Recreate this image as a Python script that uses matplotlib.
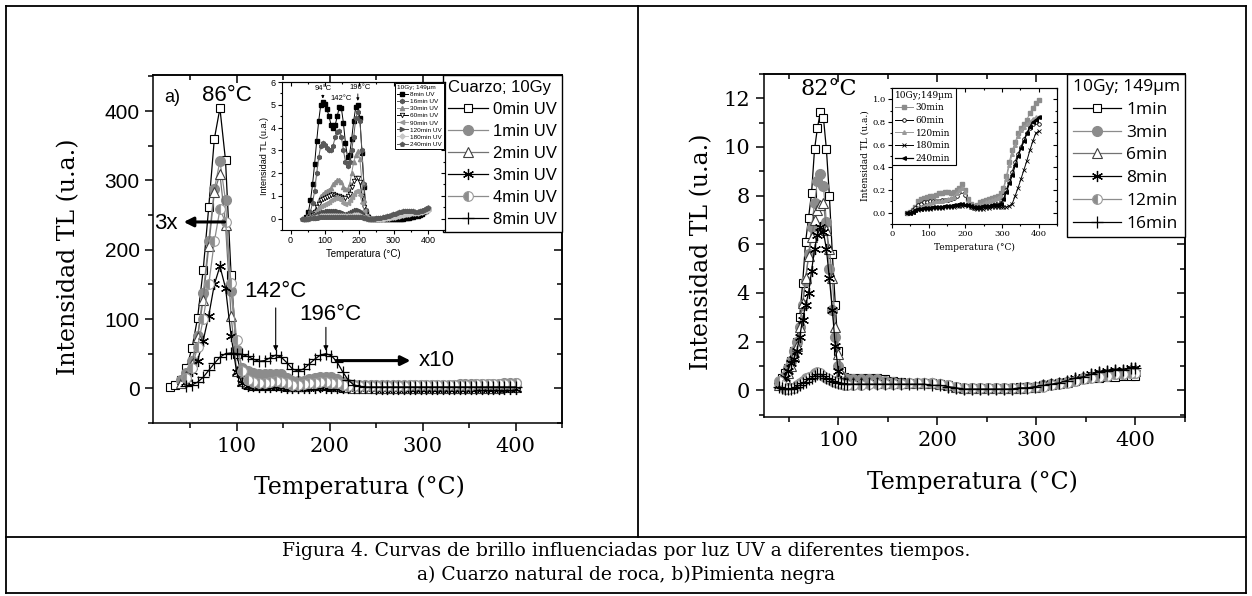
import numpy as np
import matplotlib
matplotlib.use("Agg")
import matplotlib.pyplot as plt
from matplotlib.lines import Line2D
from matplotlib.ticker import MultipleLocator

nan = np.nan

# ---------------- panel a) cuarzo, curva principal ----------------
T_a = [28, 34, 40, 46, 52, 58, 64, 70, 76, 82, 88, 94,
       100, 106, 112, 118, 124, 130, 136, 142, 148, 154, 160, 166,
       172, 178, 184, 190, 196, 202, 208, 214, 220, 226, 232,
       238, 244, 250, 256, 262, 268, 274, 280, 286, 292, 298, 304, 310, 316, 322,
       328, 334, 340, 346, 352, 358, 364, 370, 376, 382, 388, 394, 400]

q_0min = [2, 5, 12, 30, 58, 102, 171, 262, 360, 404, 329, 164,
          50, 12, 5, 3, 3, 3, 4, 4, 3, 2, 2, 2,
          2, 3, 3, 3, 3, 2, 2, 1, 1, 1, 1,
          1, 1, 1, 1, 1, 1, 1, 1, 1, 1, 1, 1, 1, 1, 1,
          1, 1, 1, 1, 1, 1, 1, 1, 1, 2, 2, 2, 2]
q_1min = [nan, nan, 12, 22, 40, 75, 137, 213, 287, 328, 271, 140,
          55, 30, 25, 22, 20, 20, 21, 21, 20, 15, 11, 10,
          11, 13, 15, 17, 17, 16, 13, 9, 6, 5, 5,
          5, 5, 5, 5, 5, 5, 5, 5, 5, 5, 5, 5, 5, 5, 5,
          5, 5, 6, 6, 6, 6, 6, 6, 6, 6, 7, 7, 7]
q_2min = [nan, nan, 8, 18, 35, 74, 128, 205, 283, 309, 236, 105,
          25, 10, 7, 6, 6, 6, 7, 8, 7, 5, 4, 4,
          4, 5, 6, 6, 6, 5, 4, 3, 2, 1, 1,
          1, 1, 1, 1, 1, 1, 1, 1, 1, 1, 1, 1, 1, 1, 1,
          1, 1, 1, 1, 1, 1, 1, 1, 1, 1, 2, 2, 2]
q_3min = [nan, nan, nan, 9, 25, 40, 69, 105, 150, 176, 145, 76,
          23, 8, 4, 3, 2, 2, 2, 3, 2, 1, 1, 1,
          1, 1, 1, 2, 1, 1, 1, 0, 0, 0, 0,
          0, 0, -1, -1, -1, -1, -1, -1, -1, -1, -1, -1, -1, -1, -1,
          -1, -1, -1, -1, -1, -1, -1, -1, -1, -1, -1, -1, -1]
q_4min = [nan, nan, nan, 15, 30, 60, 100, 150, 212, 258, 240, 152,
          70, 25, 12, 9, 8, 8, 9, 10, 9, 7, 5, 5,
          6, 7, 8, 9, 9, 8, 7, 5, 4, 4, 4,
          4, 4, 4, 4, 4, 4, 4, 4, 5, 5, 5, 5, 5, 5, 5,
          5, 5, 5, 5, 5, 6, 6, 6, 6, 6, 6, 6, 7]
q_8min = [nan, nan, nan, 4, 5, 9, 16, 26, 36, 45, 50, 51,
          50, 49, 46, 42, 39, 40, 44, 48, 45, 37, 28, 25,
          28, 35, 42, 48, 50, 47, 38, 24, 12, 5, 3,
          2, 2, 2, 2, 2, 2, 2, 2, 2, 2, 2, 2, 2, 2, 2,
          2, 2, 2, 2, 2, 2, 2, 2, 2, 2, 2, 2, 2]

# inset a) (mismas temperaturas)
i_8min = [nan, nan, 0.0, 0.05, 0.3, 0.8, 1.5, 2.4, 3.4, 4.3, 5.0, 5.1,
          5.05, 4.8, 4.5, 4.1, 4.0, 4.1, 4.5, 4.9, 4.85, 4.2, 3.3, 2.7,
          2.8, 3.5, 4.3, 4.9, 5.0, 4.4, 2.9, 1.4, 0.3, 0.05, 0.0,
          0, 0, 0, 0, 0, 0, 0, 0, 0, 0, 0, 0, 0, 0, 0,
          0.0, 0.01, 0.02, 0.04, 0.06, 0.08, 0.1, 0.13, 0.17, 0.22, 0.28, 0.35, 0.42]
i_16min = [nan, nan, 0.0, 0.0, 0.1, 0.3, 0.7, 1.2, 2.0, 2.7, 3.2, 3.3,
           3.25, 3.1, 3.0, 3.0, 3.2, 3.6, 3.8, 3.85, 3.6, 3.0, 2.5, 2.3,
           2.5, 3.0, 3.6, 4.4, 4.7, 4.3, 3.0, 1.5, 0.4, 0.1, 0.0,
           0.0, 0.0, 0.0, 0.0, 0.02, 0.04, 0.06, 0.08, 0.1, 0.12, 0.15, 0.18, 0.2, 0.23, 0.26,
           0.28, 0.3, 0.3, 0.3, 0.3, 0.29, 0.28, 0.28, 0.3, 0.33, 0.37, 0.42, 0.47]
i_30min = [nan, nan, nan, 0.0, 0.05, 0.1, 0.2, 0.35, 0.55, 0.8, 1.0, 1.1,
           1.15, 1.2, 1.25, 1.35, 1.5, 1.6, 1.7, 1.7, 1.6, 1.4, 1.3, 1.3,
           1.5, 2.0, 2.5, 2.8, 2.95, 2.6, 1.6, 0.8, 0.2, 0.05, 0.0,
           0.0, 0.0, 0.0, 0.0, 0.0, 0.02, 0.04, 0.06, 0.09, 0.12, 0.15, 0.18, 0.22, 0.25, 0.28,
           0.3, 0.32, 0.32, 0.31, 0.3, 0.3, 0.3, 0.31, 0.33, 0.36, 0.4, 0.45, 0.5]
i_60min = [nan, nan, nan, 0.0, 0.0, 0.05, 0.15, 0.3, 0.5, 0.65, 0.8, 0.85,
           0.9, 0.95, 1.0, 1.05, 1.1, 1.05, 1.0, 1.0, 0.95, 0.9, 0.9, 1.0,
           1.1, 1.4, 1.65, 1.8, 1.8, 1.6, 1.0, 0.5, 0.15, 0.05, 0.0,
           0.0, 0.0, 0.0, 0.0, 0.0, 0.0, 0.0, 0.01, 0.02, 0.03, 0.05, 0.07, 0.09, 0.11, 0.13,
           0.15, 0.17, 0.19, 0.21, 0.22, 0.23, 0.24, 0.25, 0.27, 0.3, 0.33, 0.37, 0.42]
i_90min = [nan, nan, nan, 0.0, 0.0, 0.05, 0.1, 0.2, 0.35, 0.45, 0.55, 0.6,
           0.65, 0.7, 0.75, 0.8, 0.85, 0.9, 0.9, 0.85, 0.8, 0.7, 0.65, 0.7,
           0.8, 0.95, 1.1, 1.2, 1.2, 1.05, 0.7, 0.35, 0.1, 0.0, 0.0,
           0.0, 0.0, 0.0, 0.0, 0.0, 0.01, 0.02, 0.04, 0.06, 0.08, 0.1, 0.12, 0.14, 0.16, 0.18,
           0.2, 0.22, 0.24, 0.25, 0.26, 0.27, 0.28, 0.29, 0.3, 0.32, 0.35, 0.38, 0.42]
i_120min = [nan, nan, nan, 0.0, 0.0, 0.02, 0.05, 0.1, 0.15, 0.2, 0.25, 0.28,
            0.3, 0.32, 0.33, 0.34, 0.34, 0.33, 0.32, 0.3, 0.28, 0.25, 0.22, 0.22,
            0.25, 0.3, 0.35, 0.4, 0.4, 0.35, 0.25, 0.12, 0.05, 0.0, 0.0,
            0.0, 0.0, 0.0, 0.0, 0.0, 0.0, 0.0, 0.0, 0.01, 0.02, 0.04, 0.06, 0.08, 0.1, 0.12,
            0.14, 0.16, 0.18, 0.2, 0.22, 0.24, 0.25, 0.26, 0.28, 0.3, 0.33, 0.36, 0.4]
i_180min = [nan, nan, nan, 0.0, 0.0, 0.01, 0.02, 0.04, 0.06, 0.08, 0.1, 0.1,
            0.11, 0.12, 0.12, 0.12, 0.12, 0.12, 0.12, 0.12, 0.11, 0.1, 0.1, 0.1,
            0.1, 0.12, 0.14, 0.15, 0.15, 0.12, 0.08, 0.04, 0.01, 0.0, 0.0,
            0.0, 0.0, 0.0, 0.0, 0.0, 0.0, 0.01, 0.02, 0.03, 0.05, 0.07, 0.09, 0.11, 0.13, 0.15,
            0.17, 0.19, 0.2, 0.22, 0.23, 0.24, 0.25, 0.26, 0.27, 0.29, 0.32, 0.35, 0.38]
i_240min = [nan, 0.0, 0.0, 0.0, 0.0, 0.01, 0.02, 0.03, 0.04, 0.05, 0.06, 0.06,
            0.06, 0.07, 0.07, 0.07, 0.07, 0.07, 0.07, 0.07, 0.06, 0.06, 0.06, 0.06,
            0.06, 0.07, 0.08, 0.09, 0.09, 0.07, 0.05, 0.03, 0.01, 0.0, 0.0,
            0.0, 0.0, 0.01, 0.02, 0.04, 0.06, 0.08, 0.1, 0.13, 0.16, 0.19, 0.22, 0.25, 0.28, 0.3,
            0.32, 0.33, 0.34, 0.34, 0.33, 0.32, 0.31, 0.31, 0.32, 0.34, 0.37, 0.41, 0.45]

# ---------------- panel b) pimienta negra ----------------
T_b = [40, 43, 46, 49, 52, 55, 58, 61, 64, 67, 70, 73, 76, 79, 82, 85, 88, 91, 94, 97, 100, 103, 106, 109,
       115, 123, 131, 139, 147, 155, 163, 171, 179, 187, 195, 203,
       211, 219, 227, 235, 243, 251, 259, 267, 275, 283, 291, 299,
       307, 315, 323, 331, 339, 347, 355, 363, 371, 379, 387, 395, 400]

b_1min = [0.3, 0.5, 0.7, 0.9, 1.2, 1.6, 2.0, 3.0, 4.4, 6.1, 7.1, 8.1, 9.9, 10.8, 11.45, 11.2, 9.9, 8.0, 5.6, 3.5, 1.6, 0.8, 0.55, 0.5,
          0.5, 0.5, 0.5, 0.5, 0.45, 0.4, 0.35, 0.3, 0.3, 0.3, 0.3, 0.25,
          0.2, 0.15, 0.1, 0.1, 0.1, 0.1, 0.1, 0.1, 0.1, 0.12, 0.15, 0.15,
          0.2, 0.25, 0.3, 0.35, 0.4, 0.45, 0.5, 0.5, 0.55, 0.55, 0.6, 0.6, 0.6]
b_3min = [0.3, 0.4, 0.6, 0.9, 1.2, 1.6, 2.0, 2.6, 3.5, 4.5, 5.6, 6.7, 7.7, 8.6, 8.9, 8.4, 6.9, 5.0, 3.3, 2.2, 1.0, 0.6, 0.5, 0.45,
          0.45, 0.45, 0.45, 0.45, 0.4, 0.35, 0.3, 0.3, 0.3, 0.3, 0.3, 0.25,
          0.2, 0.15, 0.1, 0.1, 0.1, 0.1, 0.1, 0.1, 0.1, 0.1, 0.12, 0.15,
          0.2, 0.25, 0.3, 0.35, 0.4, 0.5, 0.55, 0.6, 0.6, 0.65, 0.65, 0.7, 0.7]
b_6min = [0.2, 0.3, 0.5, 0.7, 1.0, 1.4, 1.8, 2.6, 3.6, 4.6, 5.5, 6.3, 7.0, 7.4, 7.6, 7.7, 6.6, 5.8, 4.6, 2.6, 1.5, 0.7, 0.4, 0.35,
          0.35, 0.35, 0.35, 0.35, 0.3, 0.3, 0.3, 0.3, 0.3, 0.3, 0.3, 0.25,
          0.2, 0.15, 0.1, 0.1, 0.1, 0.1, 0.1, 0.1, 0.1, 0.1, 0.12, 0.15,
          0.2, 0.25, 0.3, 0.35, 0.45, 0.5, 0.6, 0.65, 0.7, 0.75, 0.75, 0.8, 0.8]
b_8min = [0.2, 0.3, 0.5, 0.8, 1.1, 1.3, 1.6, 2.2, 2.9, 3.5, 4.0, 4.9, 5.8, 6.4, 6.7, 6.5, 5.8, 4.6, 3.3, 1.8, 0.8, 0.4, 0.3, 0.25,
          0.25, 0.25, 0.25, 0.3, 0.3, 0.3, 0.3, 0.3, 0.3, 0.3, 0.3, 0.25,
          0.15, 0.1, 0.05, 0.05, 0.05, 0.05, 0.05, 0.05, 0.05, 0.1, 0.1, 0.15,
          0.2, 0.25, 0.3, 0.4, 0.5, 0.55, 0.65, 0.75, 0.8, 0.85, 0.85, 0.9, 0.9]
b_12min = [0.4, 0.2, 0.05, 0.05, 0.1, 0.1, 0.2, 0.3, 0.4, 0.5, 0.55, 0.6, 0.7, 0.75, 0.7, 0.6, 0.5, 0.45, 0.4, 0.35, 0.3, 0.25, 0.2, 0.2,
           0.2, 0.2, 0.25, 0.25, 0.25, 0.25, 0.25, 0.3, 0.3, 0.3, 0.3, 0.25,
           0.2, 0.15, 0.1, 0.1, 0.1, 0.1, 0.1, 0.1, 0.1, 0.1, 0.1, 0.12,
           0.15, 0.2, 0.25, 0.3, 0.4, 0.45, 0.5, 0.55, 0.6, 0.65, 0.65, 0.7, 0.7]
b_16min = [0.15, 0.1, 0.05, 0.05, 0.05, 0.1, 0.15, 0.2, 0.3, 0.35, 0.45, 0.5, 0.6, 0.65, 0.65, 0.6, 0.5, 0.45, 0.4, 0.35, 0.3, 0.3, 0.25, 0.25,
           0.25, 0.25, 0.25, 0.25, 0.25, 0.25, 0.25, 0.25, 0.25, 0.25, 0.2, 0.2,
           0.15, 0.1, 0.05, 0.05, 0.05, 0.05, 0.05, 0.05, 0.05, 0.1, 0.1, 0.15,
           0.2, 0.25, 0.3, 0.4, 0.5, 0.55, 0.65, 0.75, 0.8, 0.85, 0.85, 0.9, 0.9]

# inset b)
T_d = [40, 48, 56, 64, 72, 80, 88, 96, 104, 112, 120, 128,
       136, 144, 152, 160, 168, 176, 184, 192, 200, 208, 216, 224,
       232, 240, 248, 256, 264, 272, 280, 288, 296, 304, 312,
       320, 328, 336, 344, 352, 360, 368, 376, 384, 392, 400]
d_30min = [0.0, 0.01, 0.02, 0.05, 0.1, 0.12, 0.13, 0.14, 0.15, 0.15, 0.16, 0.17,
           0.17, 0.18, 0.18, 0.17, 0.18, 0.2, 0.22, 0.25, 0.2, 0.12, 0.08, 0.06,
           0.07, 0.09, 0.1, 0.11, 0.12, 0.13, 0.14, 0.15, 0.17, 0.22, 0.32,
           0.45, 0.55, 0.62, 0.7, 0.75, 0.78, 0.82, 0.88, 0.92, 0.97, 0.99]
d_60min = [0.0, 0.01, 0.02, 0.04, 0.07, 0.08, 0.09, 0.09, 0.1, 0.1, 0.1, 0.1,
           0.11, 0.11, 0.11, 0.12, 0.13, 0.15, 0.18, 0.19, 0.16, 0.08, 0.05, 0.04,
           0.05, 0.06, 0.07, 0.08, 0.08, 0.09, 0.1, 0.1, 0.11, 0.15, 0.2,
           0.28, 0.36, 0.45, 0.52, 0.58, 0.65, 0.7, 0.75, 0.78, 0.8, 0.78]
d_120min = [0.0, 0.0, 0.01, 0.02, 0.04, 0.05, 0.06, 0.07, 0.08, 0.09, 0.1, 0.1,
            0.1, 0.11, 0.12, 0.13, 0.14, 0.17, 0.2, 0.22, 0.18, 0.1, 0.06, 0.05,
            0.06, 0.07, 0.08, 0.09, 0.1, 0.11, 0.12, 0.13, 0.15, 0.2, 0.3,
            0.42, 0.52, 0.6, 0.68, 0.73, 0.76, 0.78, 0.8, 0.83, 0.84, 0.84]
d_180min = [0.0, 0.0, 0.01, 0.02, 0.02, 0.03, 0.03, 0.03, 0.03, 0.04, 0.04, 0.04,
            0.04, 0.05, 0.05, 0.05, 0.05, 0.06, 0.06, 0.06, 0.07, 0.06, 0.05, 0.04,
            0.03, 0.03, 0.03, 0.04, 0.04, 0.05, 0.05, 0.05, 0.05, 0.05, 0.05,
            0.06, 0.08, 0.15, 0.22, 0.3, 0.38, 0.46, 0.55, 0.63, 0.7, 0.72]
d_240min = [0.0, 0.0, 0.01, 0.02, 0.03, 0.03, 0.04, 0.04, 0.04, 0.05, 0.05, 0.05,
            0.05, 0.06, 0.06, 0.06, 0.07, 0.07, 0.08, 0.08, 0.07, 0.07, 0.06, 0.05,
            0.05, 0.05, 0.06, 0.06, 0.06, 0.07, 0.07, 0.07, 0.08, 0.12, 0.18,
            0.26, 0.33, 0.42, 0.5, 0.57, 0.63, 0.7, 0.76, 0.8, 0.82, 0.84]

caption = ["Figura 4. Curvas de brillo influenciadas por luz UV a diferentes tiempos.",
           "a) Cuarzo natural de roca, b)Pimienta negra"]

SANS = "Liberation Sans"
SERIF = "DejaVu Serif"
W, H = 1252, 596


def fx(px):
    return px / W


def fy(py):
    return 1 - py / H


def ejes(ax, xmaj, xmin, ymaj, ymin, lw=1.0, tl=6):
    # ticks tipo Origin: fuera abajo/izq, dentro arriba/der
    ax.xaxis.set_major_locator(MultipleLocator(xmaj))
    ax.xaxis.set_minor_locator(MultipleLocator(xmin))
    ax.yaxis.set_major_locator(MultipleLocator(ymaj))
    ax.yaxis.set_minor_locator(MultipleLocator(ymin))
    ax.tick_params(which="both", direction="out", width=lw)
    ax.tick_params(which="major", length=tl)
    ax.tick_params(which="minor", length=tl * 0.6)
    for s in ax.spines.values():
        s.set_linewidth(lw)
    top = ax.secondary_xaxis("top")
    top.xaxis.set_major_locator(MultipleLocator(xmaj))
    top.xaxis.set_minor_locator(MultipleLocator(xmin))
    top.tick_params(which="both", direction="in", labeltop=False, width=lw)
    top.tick_params(which="major", length=tl)
    top.tick_params(which="minor", length=tl * 0.6)
    top.spines["top"].set_linewidth(lw)
    der = ax.secondary_yaxis("right")
    der.yaxis.set_major_locator(MultipleLocator(ymaj))
    der.yaxis.set_minor_locator(MultipleLocator(ymin))
    der.tick_params(which="both", direction="in", labelright=False, width=lw)
    der.tick_params(which="major", length=tl)
    der.tick_params(which="minor", length=tl * 0.6)
    der.spines["right"].set_linewidth(lw)


fig = plt.figure(figsize=(W / 100, H / 100), dpi=100)

# ================= panel a =================
ax1 = fig.add_axes([fx(153), fy(423), fx(562) - fx(153), fy(75) - fy(423)])
ax1.set_xlim(10, 450)
ax1.set_ylim(-50, 452)
ejes(ax1, 100, 50, 100, 50, lw=1.1, tl=6)

ms = 6
ax1.plot(T_a, q_0min, "-s", color="k", lw=0.9, ms=ms, mfc="white", mec="k", mew=0.8, label="0min UV")
ax1.plot(T_a, q_1min, "-o", color="0.55", lw=0.9, ms=ms + 1, mfc="0.55", mec="0.55", label="1min UV")
ax1.plot(T_a, q_2min, "-^", color="0.45", lw=0.9, ms=ms + 1, mfc="white", mec="0.25", mew=0.8, label="2min UV")
ax1.plot(T_a, q_3min, "-", marker=(6, 2, 0), color="k", lw=0.9, ms=ms + 2, mew=0.9, label="3min UV")
ax1.plot(T_a, q_4min, "-o", color="0.55", lw=0.9, ms=ms + 1, fillstyle="left", mfc="0.55",
         markerfacecoloralt="white", mec="0.6", mew=0.8, label="4min UV")
ax1.plot(T_a, q_8min, "-+", color="k", lw=0.9, ms=ms + 2, mew=0.9, label="8min UV")

for lab in ax1.get_yticklabels():
    lab.set_fontfamily(SANS)
ax1.tick_params(axis="y", labelsize=15)
ax1.tick_params(axis="x", labelsize=15, pad=4)
for lab in ax1.get_xticklabels():
    lab.set_fontfamily(SERIF)
ax1.set_ylabel("Intensidad TL (u.a.)", fontfamily=SERIF, fontsize=17)
ax1.yaxis.set_label_coords(-0.178, 0.477)
ax1.set_xlabel("Temperatura (°C)", fontfamily=SERIF, fontsize=17)
ax1.xaxis.set_label_coords(0.504, -0.15)

leg1 = ax1.legend(loc="upper right", bbox_to_anchor=(1.0, 1.0), borderaxespad=0,
                  title="Cuarzo; 10Gy", alignment="left", frameon=True, fancybox=False,
                  edgecolor="k", framealpha=1, handlelength=2.4, handletextpad=0.3,
                  labelspacing=0.42, borderpad=0.3, prop={"family": SANS, "size": 12},
                  title_fontproperties={"family": SANS, "size": 12})
leg1.get_frame().set_linewidth(1.0)

ax1.text(22, 420, "a)", fontfamily=SANS, fontsize=13, va="center")
ax1.text(89, 422, "86°C", fontfamily=SANS, fontsize=16, ha="center", va="center")
ax1.annotate("", xy=(40, 240), xytext=(90, 240),
             arrowprops=dict(arrowstyle="-|>", lw=2.2, color="k", mutation_scale=14))
ax1.text(11, 238, "3x", fontfamily=SANS, fontsize=16, va="center")
ax1.text(142, 140, "142°C", fontfamily=SANS, fontsize=16, ha="center", va="center")
ax1.annotate("", xy=(142, 50), xytext=(142, 120),
             arrowprops=dict(arrowstyle="-|>", lw=0.8, color="k", mutation_scale=7))
ax1.text(201, 106, "196°C", fontfamily=SANS, fontsize=16, ha="center", va="center")
ax1.annotate("", xy=(196, 50), xytext=(196, 92),
             arrowprops=dict(arrowstyle="-|>", lw=0.8, color="k", mutation_scale=7))
ax1.annotate("", xy=(290, 40), xytext=(204, 40),
             arrowprops=dict(arrowstyle="-|>", lw=2.2, color="k", mutation_scale=14))
ax1.text(296, 40, "x10", fontfamily=SANS, fontsize=16, va="center")

# inset a
ai = fig.add_axes([fx(282), fy(230), fx(445) - fx(282), fy(82) - fy(230)])
ai.set_xlim(-25, 450)
ai.set_ylim(-0.5, 6)
ejes(ai, 100, 50, 1, 0.5, lw=0.8, tl=3)
ims = 2.6
ai.plot(T_a, i_8min, "-s", color="k", lw=0.7, ms=ims, label="8min UV")
ai.plot(T_a, i_16min, "-h", color="0.35", lw=0.7, ms=ims + 0.4, label="16min UV")
ai.plot(T_a, i_30min, "-^", color="0.55", lw=0.7, ms=ims + 0.4, label="30min UV")
ai.plot(T_a, i_60min, "-v", color="k", lw=0.7, ms=ims + 0.6, mfc="white", mec="k", mew=0.6, label="60min UV")
ai.plot(T_a, i_90min, "-<", color="0.6", lw=0.7, ms=ims + 0.4, label="90min UV")
ai.plot(T_a, i_120min, "->", color="0.3", lw=0.7, ms=ims + 0.4, label="120min UV")
ai.plot(T_a, i_180min, "-D", color="0.78", lw=0.7, ms=ims, label="180min UV")
ai.plot(T_a, i_240min, "-p", color="0.35", lw=0.7, ms=ims + 0.4, label="240min UV")
ai.tick_params(labelsize=6.5, pad=1.5)
for lab in ai.get_xticklabels() + ai.get_yticklabels():
    lab.set_fontfamily(SANS)
ai.set_xlabel("Temperatura (°C)", fontfamily=SANS, fontsize=7, labelpad=3)
ai.set_ylabel("Intensidad TL (u.a.)", fontfamily=SANS, fontsize=6.5, labelpad=1)
legi = ai.legend(loc="upper right", borderaxespad=0.2, title="10Gy; 149µm",
                 alignment="left", frameon=True, fancybox=False, edgecolor="k",
                 framealpha=1, handlelength=1.8, handletextpad=0.3, labelspacing=0.25,
                 borderpad=0.3, prop={"family": SANS, "size": 4.6},
                 title_fontproperties={"family": SANS, "size": 4.6})
legi.get_frame().set_linewidth(0.7)
ai.text(95, 5.72, "94°C", fontfamily=SANS, fontsize=5.5, ha="center", va="center")
ai.annotate("", xy=(94, 5.15), xytext=(94, 5.55),
            arrowprops=dict(arrowstyle="-|>", lw=0.6, color="k", mutation_scale=4))
ai.text(147, 5.28, "142°C", fontfamily=SANS, fontsize=5.5, ha="center", va="center")
ai.text(202, 5.78, "196°C", fontfamily=SANS, fontsize=5.5, ha="center", va="center")
ai.annotate("", xy=(196, 5.05), xytext=(196, 5.6),
            arrowprops=dict(arrowstyle="-|>", lw=0.6, color="k", mutation_scale=4))

# ================= panel b =================
ax2 = fig.add_axes([fx(764), fy(417), fx(1185) - fx(764), fy(74) - fy(417)])
ax2.set_xlim(25, 450)
ax2.set_ylim(-1.1, 13)
ejes(ax2, 100, 50, 2, 1, lw=1.1, tl=6)
ax2.plot(T_b, b_1min, "-s", color="k", lw=0.9, ms=ms, mfc="white", mec="k", mew=0.8, label="1min")
ax2.plot(T_b, b_3min, "-o", color="0.55", lw=0.9, ms=ms + 1, mfc="0.55", mec="0.55", label="3min")
ax2.plot(T_b, b_6min, "-^", color="0.45", lw=0.9, ms=ms + 1, mfc="white", mec="0.25", mew=0.8, label="6min")
ax2.plot(T_b, b_8min, "-", marker=(6, 2, 0), color="k", lw=0.9, ms=ms + 2, mew=0.9, label="8min")
ax2.plot(T_b, b_12min, "-o", color="0.55", lw=0.9, ms=ms + 1, fillstyle="left", mfc="0.55",
         markerfacecoloralt="white", mec="0.6", mew=0.8, label="12min")
ax2.plot(T_b, b_16min, "-+", color="k", lw=0.9, ms=ms + 2, mew=0.9, label="16min")
ax2.tick_params(labelsize=15, pad=4)
for lab in ax2.get_xticklabels() + ax2.get_yticklabels():
    lab.set_fontfamily(SERIF)
ax2.set_ylabel("Intensidad TL (u.a.)", fontfamily=SERIF, fontsize=17)
ax2.yaxis.set_label_coords(-0.12, 0.481)
ax2.set_xlabel("Temperatura (°C)", fontfamily=SERIF, fontsize=17)
ax2.xaxis.set_label_coords(0.496, -0.155)
leg2 = ax2.legend(loc="upper right", bbox_to_anchor=(1.0, 1.0), borderaxespad=0,
                  title="10Gy; 149µm", alignment="left", frameon=True, fancybox=False,
                  edgecolor="k", framealpha=1, handlelength=2.8, handletextpad=0.3,
                  labelspacing=0.38, borderpad=0.3, prop={"family": "Open Sans", "size": 12.5},
                  title_fontproperties={"family": "Open Sans", "size": 12.5})
leg2.get_frame().set_linewidth(1.0)
ax2.text(90, 12.4, "82°C", fontfamily=SERIF, fontsize=16, ha="center", va="center")

# inset b
bi = fig.add_axes([fx(892), fy(224), fx(1057) - fx(892), fy(88) - fy(224)])
bi.set_xlim(0, 450)
bi.set_ylim(-0.1, 1.1)
ejes(bi, 100, 50, 0.2, 0.1, lw=0.8, tl=3)
bi.plot(T_d, d_30min, "-s", color="0.55", lw=0.7, ms=2.4, label="30min")
bi.plot(T_d, d_60min, "-o", color="k", lw=0.7, ms=2.6, mfc="white", mew=0.6, label="60min")
bi.plot(T_d, d_120min, "-^", color="0.6", lw=0.7, ms=2.6, label="120min")
bi.plot(T_d, d_180min, "-x", color="k", lw=0.7, ms=2.6, mew=0.6, label="180min")
bi.plot(T_d, d_240min, "-<", color="k", lw=0.9, ms=2.6, label="240min")
bi.tick_params(labelsize=6, pad=1.5)
for lab in bi.get_xticklabels() + bi.get_yticklabels():
    lab.set_fontfamily(SERIF)
bi.yaxis.set_major_formatter(plt.FormatStrFormatter("%.1f"))
bi.set_xlabel("Temperatura (°C)", fontfamily=SERIF, fontsize=6.5, labelpad=3)
bi.set_ylabel("Intensidad TL (u.a.)", fontfamily=SERIF, fontsize=6.5, labelpad=2)
legb = bi.legend(loc="upper left", borderaxespad=0.05, title="10Gy;149µm",
                 alignment="left", frameon=True, fancybox=False, edgecolor="k",
                 framealpha=1, handlelength=2.0, handletextpad=0.3, labelspacing=0.4,
                 borderpad=0.25, prop={"family": SERIF, "size": 6.5},
                 title_fontproperties={"family": SERIF, "size": 6.5})
legb.get_frame().set_linewidth(0.8)

# ================= marco tipo tabla + leyenda =================
lw_t = 1.3
for (x0, y0, x1, y1) in [(6, 6, 1246, 6), (6, 593, 1246, 593), (6, 6, 6, 593),
                         (1246, 6, 1246, 593), (6, 537, 1246, 537), (638, 6, 638, 537)]:
    fig.add_artist(Line2D([fx(x0), fx(x1)], [fy(y0), fy(y1)], transform=fig.transFigure,
                          color="k", lw=lw_t))

fig.text(fx(626), fy(551), caption[0], fontfamily=SERIF, fontsize=13.5, ha="center", va="center")
fig.text(fx(626), fy(575), caption[1], fontfamily=SERIF, fontsize=13.5, ha="center", va="center")

fig.savefig("out.png", dpi=100)
